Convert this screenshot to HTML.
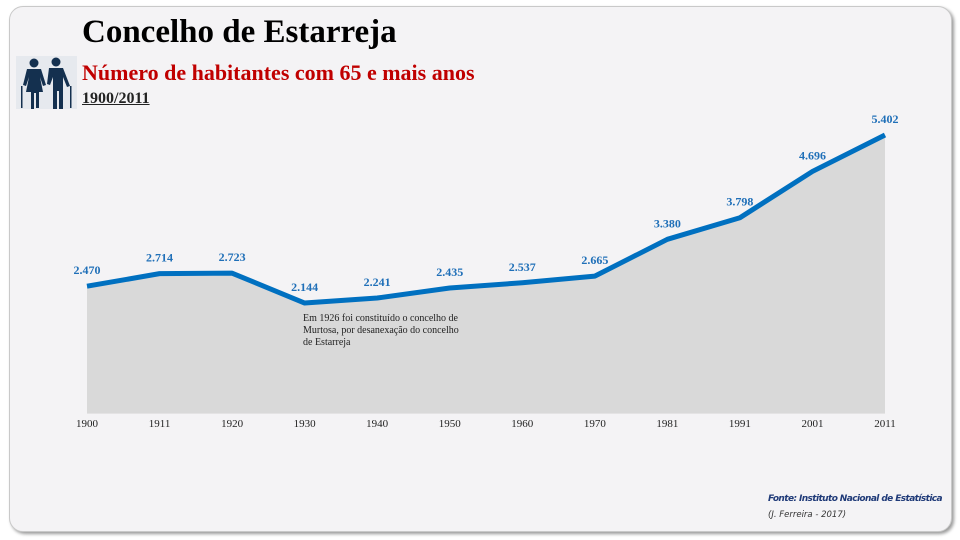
<!DOCTYPE html>
<html><head><meta charset="utf-8"><style>
body{margin:0;width:960px;height:540px;background:#fff;position:relative;overflow:hidden;font-family:"Liberation Serif",serif}
.card{position:absolute;left:9px;top:6px;width:941px;height:524px;background:#f4f3f5;border:1px solid #c9c9c9;border-radius:14px;box-shadow:2px 2px 3px #9a9a9a}
.t{position:absolute;white-space:nowrap}
</style></head><body>
<div class="card"></div>
<div class="t" style="left:82px;top:14px;font-size:33px;font-weight:bold;color:#000">Concelho de Estarreja</div>
<div class="t" style="left:82px;top:60px;font-size:22px;font-weight:bold;color:#c00000">Número de habitantes com 65 e mais anos</div>
<div class="t" style="left:82px;top:90px;font-size:16px;font-weight:bold;color:#222;text-decoration:underline">1900/2011</div>
<svg class="t" style="left:16px;top:56px" width="61" height="53" viewBox="0 0 61 53">
<rect width="61" height="53" fill="#e6e9ee"/>
<g fill="#14304f">
<circle cx="18" cy="7" r="4.5"/><path d="M11 13h14l5 16-3 1-3-9 3 15h-4v16h-3V37h-2v16h-3V36H10l3-15-3 9-3-1z"/>
<circle cx="40" cy="6" r="4.5"/><path d="M33 12h14l7 18-3 1-4-10v32h-4V35h-2v18h-4V21l-3 8-3-1z"/>
<rect x="5" y="30" width="1.5" height="22"/><rect x="54" y="30" width="1.5" height="22"/>
</g></svg>
<svg class="t" style="left:0;top:0" width="960" height="540" id="ch"></svg>
<div class="t" style="left:303px;top:313px;font-size:10px;line-height:12px;color:#222">Em 1926 foi constituído o concelho de<br>Murtosa, por desanexação do concelho<br>de Estarreja</div>
<div class="t" style="left:768px;width:174px;top:494px;font-family:'DejaVu Sans',sans-serif;font-size:9px;font-weight:bold;font-style:italic;color:#1f3a78;letter-spacing:-0.6px">Fonte: Instituto Nacional de Estatística</div>
<div class="t" style="left:768px;top:510px;font-family:'DejaVu Sans',sans-serif;font-size:8.5px;font-style:italic;color:#333">(J. Ferreira - 2017)</div>
<script>
const years=["1900","1911","1920","1930","1940","1950","1960","1970","1981","1991","2001","2011"];
const values=[2470,2714,2723,2144,2241,2435,2537,2665,3380,3798,4696,5402];
const labels=["2.470","2.714","2.723","2.144","2.241","2.435","2.537","2.665","3.380","3.798","4.696","5.402"];
const NS="http://www.w3.org/2000/svg",svg=document.getElementById('ch');
const x=i=>87+i*(885-87)/(years.length-1);
const y=v=>413.6-v*0.05157;
function mk(t,a){const e=document.createElementNS(NS,t);for(const k in a)e.setAttribute(k,a[k]);svg.appendChild(e);return e;}
let pts=values.map((v,i)=>x(i)+','+y(v)).join(' ');
const area=mk('polygon',{points:x(0)+',413.6 '+pts+' '+x(values.length-1)+',413.6',fill:'#d9d9d9'});


const line=mk('polyline',{points:pts,fill:'none',stroke:'#0070c0','stroke-width':5,'stroke-linejoin':'round'});


years.forEach((yr,i)=>{
 const t=mk('text',{x:x(i),y:427,'font-size':11,'text-anchor':'middle',fill:'#222','font-family':'Liberation Serif, serif'});
 t.textContent=yr;
 
 
 const l=mk('text',{x:x(i),y:y(values[i])-12,'font-size':12,'font-weight':'bold','text-anchor':'middle',fill:'#1f6fb8','font-family':'Liberation Serif, serif'});
 l.textContent=labels[i];
 
 
});
</script>
</body></html>
